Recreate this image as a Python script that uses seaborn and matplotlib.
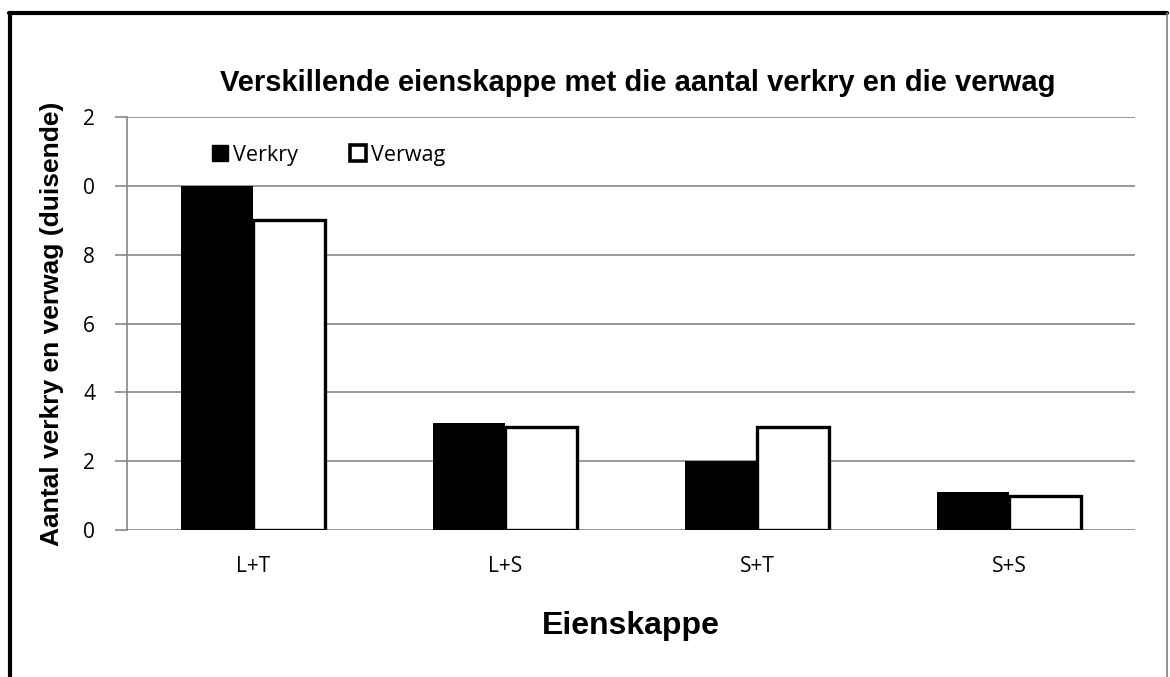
import pandas as pd
import numpy as np
import matplotlib.pyplot as plt
import seaborn as sns
from matplotlib.patches import Rectangle
from matplotlib.lines import Line2D

categories = ['L+T', 'L+S', 'S+T', 'S+S']
verkry = [10, 3.1, 2, 1.1]
verwag = [9, 3, 3, 1]
ytick_values = [0, 2, 4, 6, 8, 10, 12]
ytick_labels = ['0', '2', '4', '6', '8', '0', '2']

df = pd.DataFrame({
    'Eienskappe': categories * 2,
    'waarde': verkry + verwag,
    'reeks': ['Verkry'] * 4 + ['Verwag'] * 4,
})

sns.set_style('white')
plt.rcParams['font.family'] = ['Open Sans', 'DejaVu Sans']
plt.rcParams['text.color'] = 'black'
plt.rcParams['axes.labelcolor'] = 'black'
plt.rcParams['xtick.color'] = 'black'
plt.rcParams['ytick.color'] = 'black'

fig = plt.figure(figsize=(11.7, 6.77), dpi=100)
ax = fig.add_axes([0.1085, 0.217, 0.8615, 0.61])

sns.barplot(data=df, x='Eienskappe', y='waarde', hue='reeks', ax=ax,
            width=0.57, palette=['black', 'white'], saturation=1, legend=False)

# styl van die stawe
for bar in ax.containers[0]:
    bar.set_facecolor('black')
    bar.set_edgecolor('black')
    bar.set_linewidth(0)
for bar in ax.containers[1]:
    bar.set_facecolor('white')
    bar.set_edgecolor('black')
    bar.set_linewidth(2.4)

ax.set_ylim(0, 12)
ax.set_xlim(-0.5, 3.5)
ax.set_yticks(ytick_values)
ax.set_yticklabels(ytick_labels)
ax.tick_params(axis='x', labelsize=15, length=0, pad=19)
ax.tick_params(axis='y', labelsize=15, length=9, width=1.2, color='#868686',
               labelcolor='black', left=True, pad=14)
ax.yaxis.grid(True, color='#868686', linewidth=1.2)
ax.set_axisbelow(True)
for s in ['top', 'right', 'bottom']:
    ax.spines[s].set_visible(False)
ax.spines['left'].set_color('#868686')
ax.spines['left'].set_linewidth(1.2)

ax.set_xlabel('Eienskappe', fontsize=23, fontweight='bold', family='Liberation Sans', labelpad=24)
ax.set_ylabel('Aantal verkry en verwag (duisende)', fontsize=19, fontweight='bold',
              family='Liberation Sans', labelpad=14)
fig.text(0.545, 0.878, 'Verskillende eienskappe met die aantal verkry en die verwag',
         fontsize=21, fontweight='bold', family='Liberation Sans', ha='center', va='center')

# legende
handles = [Rectangle((0, 0), 1, 1, facecolor='black', edgecolor='black'),
           Rectangle((0, 0), 1, 1, facecolor='white', edgecolor='black', linewidth=2.6)]
ax.legend(handles, ['Verkry', 'Verwag'], loc='upper left', bbox_to_anchor=(0.065, 0.98),
          ncol=2, frameon=False, fontsize=15.5, handlelength=0.75, handleheight=0.75,
          handletextpad=0.25, columnspacing=2.4)

# buitenste raam
W, H = 1170, 677
fig.lines.append(Line2D([10 / W, 10 / W], [0, 1 - 13 / H], transform=fig.transFigure,
                        color='black', linewidth=3))
fig.lines.append(Line2D([9 / W, 1167 / W], [1 - 13 / H, 1 - 13 / H], transform=fig.transFigure,
                        color='black', linewidth=3))
fig.lines.append(Line2D([1167 / W, 1167 / W], [0, 1 - 13 / H], transform=fig.transFigure,
                        color='#7f7f7f', linewidth=1.2))

plt.savefig('out.png', dpi=100)
